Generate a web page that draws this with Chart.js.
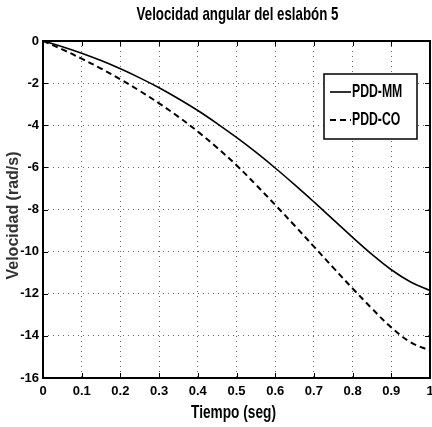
<!DOCTYPE html>
<html>
<head>
<meta charset="utf-8">
<script src="https://cdn.jsdelivr.net/npm/chart.js@4.4.1/dist/chart.umd.min.js"></script>
<style>
  html, body { margin: 0; padding: 0; background: #fff; }
  #wrap { width: 432px; height: 427px; }
</style>
</head>
<body>
<div id="wrap"><canvas id="grafica" width="432" height="427"></canvas></div>
<script>
// Velocidad angular del eslabón 5: dos controladores comparados
const tiempo = [0, 0.05, 0.1, 0.15, 0.2, 0.25, 0.3, 0.35, 0.4, 0.45, 0.5,
                0.55, 0.6, 0.65, 0.7, 0.75, 0.8, 0.85, 0.9, 0.95, 1.0];
const velMM = [0, -0.27, -0.58, -0.93, -1.32, -1.75, -2.22, -2.74, -3.3, -3.92, -4.58,
               -5.28, -6.03, -6.82, -7.64, -8.48, -9.32, -10.13, -10.86, -11.44, -11.85];
const velCO = [0, -0.4, -0.84, -1.31, -1.82, -2.37, -2.96, -3.6, -4.3, -5.07, -5.9,
               -6.82, -7.78, -8.76, -9.76, -10.76, -11.75, -12.7, -13.6, -14.3, -14.7];
const series = ['PDD-MM', 'PDD-CO'];
const yTicks = [0, -2, -4, -6, -8, -10, -12, -14, -16];
const titulo = 'Velocidad angular del eslabón 5';
const tituloX = 'Tiempo (seg)';
const tituloY = 'Velocidad (rad/s)';

const FUENTE = "'Liberation Sans', Arial, sans-serif";

const puntos = (ys) => tiempo.map((t, i) => ({ x: t, y: ys[i] }));

// texto "estrecho": se comprime en horizontal
function textoEstrecho(ctx, txt, x, y, size, align, k = 0.72) {
  ctx.save();
  ctx.font = 'bold ' + size + 'px ' + FUENTE;
  ctx.textAlign = align;
  ctx.textBaseline = 'middle';
  ctx.translate(x, y);
  ctx.scale(k, 1);
  ctx.fillText(txt, 0, 0);
  ctx.restore();
}

// Marco cerrado, marcas hacia adentro, títulos y leyenda
const marcoMatlab = {
  id: 'marcoMatlab',
  afterDatasetsDraw(chart) {
    const { ctx, chartArea: a, scales } = chart;
    ctx.save();
    ctx.strokeStyle = '#000';
    ctx.lineWidth = 1;
    ctx.beginPath();
    scales.x.ticks.forEach(t => {
      const px = Math.round(scales.x.getPixelForValue(t.value)) + 0.5;
      ctx.moveTo(px, a.bottom); ctx.lineTo(px, a.bottom - 5);
      ctx.moveTo(px, a.top); ctx.lineTo(px, a.top + 5);
    });
    scales.y.ticks.forEach(t => {
      const py = Math.round(scales.y.getPixelForValue(t.value)) + 0.5;
      ctx.moveTo(a.left, py); ctx.lineTo(a.left + 5, py);
      ctx.moveTo(a.right, py); ctx.lineTo(a.right - 5, py);
    });
    ctx.stroke();
    ctx.lineWidth = 2;
    ctx.strokeRect(a.left, a.top, a.right - a.left, a.bottom - a.top);

    ctx.fillStyle = '#000';
    const cx = (a.left + a.right) / 2;
    textoEstrecho(ctx, titulo, cx + 1, 15, 19, 'center', 0.7);
    textoEstrecho(ctx, tituloX, cx - 3, 413, 19, 'center', 0.72);

    ctx.save();
    ctx.fillStyle = '#333';
    ctx.font = 'bold 16px ' + FUENTE;
    ctx.textAlign = 'center';
    ctx.textBaseline = 'middle';
    ctx.translate(14, (a.top + a.bottom) / 2 + 6);
    ctx.rotate(-Math.PI / 2);
    ctx.fillText(tituloY, 0, 0);
    ctx.restore();

    // leyenda
    const bx = 324, by = 74, bw = 93, bh = 65;
    ctx.fillStyle = '#fff';
    ctx.fillRect(bx, by, bw, bh);
    ctx.strokeStyle = '#000';
    ctx.lineWidth = 1.5;
    ctx.strokeRect(bx, by, bw, bh);
    chart.data.datasets.forEach((ds, i) => {
      const yy = by + 18 + i * 28;
      ctx.lineWidth = ds.borderWidth;
      ctx.setLineDash(ds.borderDash || []);
      ctx.beginPath();
      ctx.moveTo(bx + 6, yy); ctx.lineTo(bx + 27, yy);
      ctx.stroke();
      ctx.setLineDash([]);
      ctx.fillStyle = '#000';
      textoEstrecho(ctx, ds.label, bx + 28, yy, 18, 'left', 0.68);
    });
    ctx.restore();
  }
};

new Chart(document.getElementById('grafica'), {
  type: 'line',
  data: {
    datasets: [
      {
        label: series[0],
        data: puntos(velMM),
        borderColor: '#000',
        borderWidth: 1.6,
        pointRadius: 0,
        tension: 0.4,
      },
      {
        label: series[1],
        data: puntos(velCO),
        borderColor: '#000',
        borderWidth: 2,
        borderDash: [6, 4],
        pointRadius: 0,
        tension: 0.4,
      },
    ],
  },
  options: {
    responsive: false,
    animation: false,
    layout: { padding: { left: 0, right: 2, top: 41, bottom: 0 } },
    plugins: {
      legend: { display: false },
      tooltip: { enabled: false },
      title: { display: false },
    },
    scales: {
      x: {
        type: 'linear',
        min: 0,
        max: 1,
        ticks: {
          stepSize: 0.1,
          color: '#000',
          padding: 6,
          font: { family: FUENTE, size: 13, weight: 'bold' },
          callback: v => String(+v.toFixed(1)),
        },
        grid: { color: '#666', lineWidth: 1, drawTicks: false },
        border: { display: false, dash: [1, 4] },
        afterFit(s) { s.height = 49; s.paddingRight = 0; s.paddingLeft = 0; },
      },
      y: {
        min: -16,
        max: 0,
        afterBuildTicks(s) { s.ticks = yTicks.map(v => ({ value: v })); },
        ticks: {
          color: '#000',
          padding: 4,
          font: { family: FUENTE, size: 13, weight: 'bold' },
        },
        grid: { color: '#666', lineWidth: 1, drawTicks: false },
        border: { display: false, dash: [1, 4] },
        afterFit(s) { s.width = 43; s.paddingTop = 0; s.paddingBottom = 0; },
      },
    },
  },
  plugins: [marcoMatlab],
});
</script>
</body>
</html>
